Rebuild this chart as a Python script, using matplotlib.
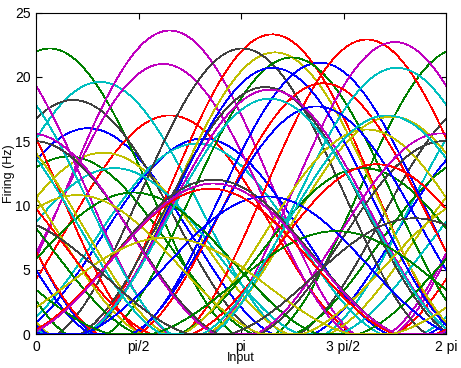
import matplotlib
matplotlib.use("Agg")
import matplotlib.pyplot as plt
import numpy as np

plt.rcParams['font.family'] = ['Liberation Sans', 'DejaVu Sans']

# preferred input (rad) and peak firing rate (Hz) per neuron,
# listed in the order they were plotted (colour cycle b g r c m y k)
pref_dirs = [0.80, 0.21, 2.05, 0.98, 2.05, 1.03, 0.57,
             2.56, 0.50, 3.62, 2.46, 1.95, 3.66, 3.16,
             4.35, 3.92, 5.07, 1.20, 5.50, 5.45, 3.51,
             3.63, 5.01, 4.40, 5.53, 3.58, 5.07, 6.25,
             4.30, 1.49, 5.22, 3.58, 6.20, 0.63, 2.72,
             3.54, 4.60, 2.67, 5.38, 2.72, 2.00, 5.80]
peak_rates = [16.0, 22.2, 17.0, 19.6, 23.6, 14.1, 18.2,
              15.2, 13.8, 23.3, 14.8, 21.0, 21.9, 22.2,
              21.1, 21.5, 22.9, 12.9, 22.7, 16.9, 19.2,
              20.7, 12.9, 19.5, 20.7, 19.0, 15.9, 15.0,
              17.7, 11.0, 13.2, 18.3, 15.6, 10.8, 12.0,
              10.7, 8.0, 11.3, 17.0, 11.7, 7.5, 9.0]
threshold = -0.95   # cosine below which a neuron is silent

colours = [(0, 0, 1), (0, 0.5, 0), (1, 0, 0), (0, 0.75, 0.75),
           (0.75, 0, 0.75), (0.75, 0.75, 0), (0.25, 0.25, 0.25)]

xticks = [0, np.pi/2, np.pi, 3*np.pi/2, 2*np.pi]
xticklabels = ['0', 'pi/2', 'pi', '3 pi/2', '2 pi']
yticks = [0, 5, 10, 15, 20, 25]

x = np.linspace(0, 2*np.pi, 800)

fig = plt.figure(figsize=(4.61, 3.68), dpi=100)
ax = fig.add_axes([36/461, 34/368, 410/461, 321.5/368])

for i, (p, r) in enumerate(zip(pref_dirs, peak_rates)):
    rate = r * np.maximum(0, (np.cos(x - p) - threshold) / (1 - threshold))
    ax.plot(x, rate, color=colours[i % 7], lw=0.55, antialiased=False)

ax.set_xlim(0, 2*np.pi)
ax.set_ylim(0, 25)
ax.set_xticks(xticks)
ax.set_xticklabels(xticklabels)
ax.set_yticks(yticks)
ax.tick_params(direction='in', length=4, width=0.8, labelsize=10,
               top=True, right=True, pad=4)
for s in ax.spines.values():
    s.set_linewidth(0.8)
ax.set_xlabel('Input', fontsize=9, labelpad=-1)
ax.set_ylabel('Firing (Hz)', fontsize=9, va='center')
ax.yaxis.set_label_coords(-0.066, 0.5)

fig.savefig('out.png', dpi=100)
